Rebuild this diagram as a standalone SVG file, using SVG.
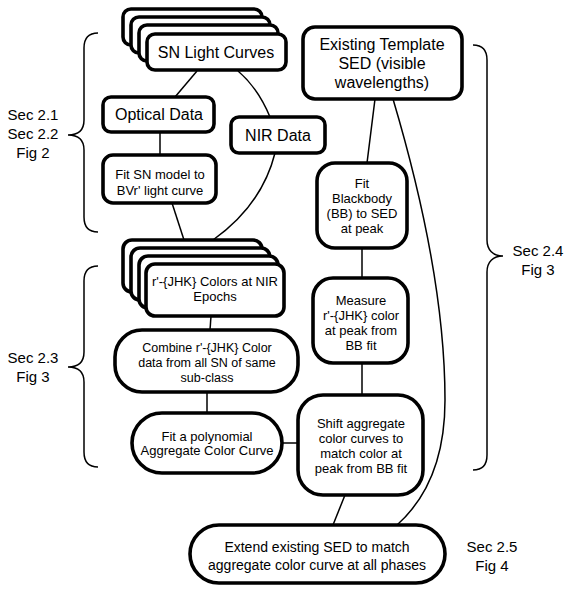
<svg xmlns="http://www.w3.org/2000/svg" width="581" height="595" viewBox="0 0 581 595">
<style>
.n{fill:#fff;stroke:#000;stroke-width:3.6}
.c{fill:none;stroke:#000;stroke-width:1.5}
text{font-family:"Liberation Sans",Arial,sans-serif;fill:#000;text-anchor:middle}
.t16{font-size:16px}.t13{font-size:13px}.t12{font-size:12.5px}.t14{font-size:14px}.t15{font-size:15px}
</style>
<rect width="581" height="595" fill="#fff"/>
<g id="connectors">
<path class="c" d="M197,71 L175,97"/>
<path class="c" d="M238,71 Q258,88 270,117"/>
<path class="c" d="M160,132 L160,155"/>
<path class="c" d="M172,203 L184,240"/>
<path class="c" d="M275,153 Q262,205 213,240"/>
<path class="c" d="M375,99 L367,163"/>
<path class="c" d="M393,99 C420,190 445,300 445,400 C445,460 425,500 397,525"/>
<path class="c" d="M362,248 L362,278"/>
<path class="c" d="M362,363 L362,395"/>
<path class="c" d="M211,316 L210,330"/>
<path class="c" d="M207,392 L207,413"/>
<path class="c" d="M282,443 L298,443"/>
<path class="c" d="M345,495 L333,525"/>
</g>
<g id="braces">
<path class="c" d="M98,33 C88,33 84,38 84,48 L84,120 C84,130 78,135 68,135 C78,135 84,140 84,150 L84,217 C84,227 88,232 98,232"/>
<path class="c" d="M98,266 C88,266 84,271 84,281 L84,352 C84,362 78,367 68,367 C78,367 84,372 84,382 L84,452 C84,462 88,467 98,467"/>
<path class="c" d="M473,45 C483,45 487,50 487,60 L487,240 C487,250 493,256 503,256 C493,256 487,262 487,272 L487,455 C487,465 483,470 473,470"/>
</g>
<g id="labels">
<text class="t15" x="33" y="120">Sec 2.1</text>
<text class="t15" x="33" y="139">Sec 2.2</text>
<text class="t15" x="33" y="158">Fig 2</text>
<text class="t15" x="33" y="363">Sec 2.3</text>
<text class="t15" x="33" y="382">Fig 3</text>
<text class="t15" x="538" y="256">Sec 2.4</text>
<text class="t15" x="538" y="275">Fig 3</text>
<text class="t15" x="492" y="552">Sec 2.5</text>
<text class="t15" x="492" y="571">Fig 4</text>
</g>
<g id="sn-light-curves">
<rect class="n" x="123" y="9" width="139" height="36" rx="8"/>
<rect class="n" x="131" y="17" width="139" height="36" rx="8"/>
<rect class="n" x="139" y="25" width="139" height="36" rx="8"/>
<rect class="n" x="147" y="34" width="139" height="36" rx="8"/>
<text class="t16" x="216" y="58">SN Light Curves</text>
</g>
<g id="optical-data">
<rect class="n" x="103" y="97" width="111" height="35" rx="8"/>
<text class="t16" x="159" y="120">Optical Data</text>
</g>
<g id="nir-data">
<rect class="n" x="231" y="117" width="94" height="36" rx="8"/>
<text class="t16" x="278" y="141">NIR Data</text>
</g>
<g id="fit-sn-model">
<rect class="n" x="103" y="155" width="113" height="48" rx="10"/>
<text class="t13" x="160" y="179">Fit SN model to</text>
<text class="t13" x="160" y="195">BVr' light curve</text>
</g>
<g id="existing-template">
<rect class="n" x="303" y="27" width="159" height="72" rx="12"/>
<text class="t16" x="382" y="50">Existing Template</text>
<text class="t16" x="382" y="69">SED (visible</text>
<text class="t16" x="382" y="88">wavelengths)</text>
</g>
<g id="fit-blackbody">
<rect class="n" x="317" y="163" width="90" height="85" rx="18"/>
<text class="t13" x="362" y="188">Fit</text>
<text class="t13" x="362" y="203">Blackbody</text>
<text class="t13" x="362" y="218">(BB) to SED</text>
<text class="t13" x="362" y="233">at peak</text>
</g>
<g id="colors-nir-epochs">
<rect class="n" x="123" y="240" width="139" height="52" rx="9"/>
<rect class="n" x="131" y="248" width="139" height="52" rx="9"/>
<rect class="n" x="139" y="256" width="139" height="52" rx="9"/>
<rect class="n" x="146" y="264" width="138" height="52" rx="9"/>
<text class="t13" x="215" y="286">r'-{JHK} Colors at NIR</text>
<text class="t13" x="215" y="301">Epochs</text>
</g>
<g id="measure-color">
<rect class="n" x="313" y="278" width="95" height="85" rx="20"/>
<text class="t13" x="361" y="305">Measure</text>
<text class="t13" x="361" y="320">r'-{JHK} color</text>
<text class="t13" x="361" y="335">at peak from</text>
<text class="t13" x="361" y="350">BB fit</text>
</g>
<g id="combine">
<rect class="n" x="115" y="330" width="183" height="62" rx="27"/>
<text class="t12" x="207" y="352">Combine r'-{JHK} Color</text>
<text class="t12" x="207" y="367">data from all SN of same</text>
<text class="t12" x="207" y="382">sub-class</text>
</g>
<g id="fit-polynomial">
<rect class="n" x="132" y="413" width="150" height="60" rx="30"/>
<text class="t13" x="207" y="441">Fit a polynomial</text>
<text class="t13" x="207" y="455">Aggregate Color Curve</text>
</g>
<g id="shift-aggregate">
<rect class="n" x="298" y="395" width="125" height="100" rx="25"/>
<text class="t13" x="361" y="428">Shift aggregate</text>
<text class="t13" x="361" y="443">color curves to</text>
<text class="t13" x="361" y="458">match color at</text>
<text class="t13" x="361" y="473">peak from BB fit</text>
</g>
<g id="extend-sed">
<rect class="n" x="190" y="525" width="255" height="58" rx="29"/>
<text class="t14" x="317" y="552">Extend existing SED to match</text>
<text class="t14" x="317" y="570">aggregate color curve at all phases</text>
</g>
</svg>
